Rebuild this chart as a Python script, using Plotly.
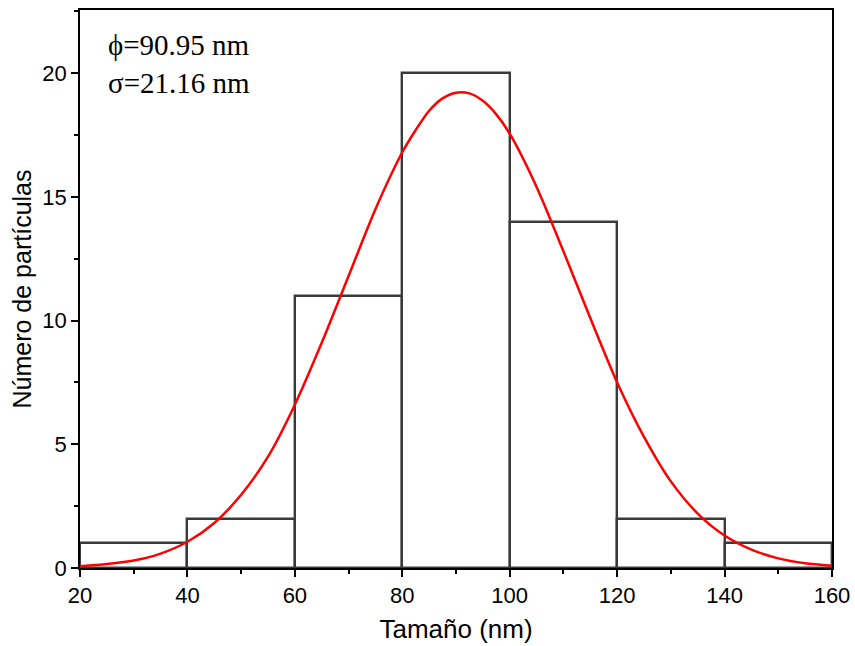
import plotly.graph_objects as go

# Histogram data
bin_centers = [30, 50, 70, 90, 110, 130, 150]
counts = [1, 2, 11, 20, 14, 2, 1]
bin_width = 20

# Fitted curve values
curve_x = [20, 25, 30, 35, 40, 45, 50, 55, 60, 65, 70, 75, 80, 82.5, 85, 87.5,
           90, 92.5, 95, 97.5, 100, 105, 110, 115, 120, 125, 130, 135, 140,
           145, 150, 155, 160]
curve_y = [0.07, 0.16, 0.30, 0.58, 1.06, 1.82, 2.96, 4.5, 6.6, 9.1, 11.8, 14.5,
           16.8, 17.7, 18.48, 18.98, 19.21, 19.18, 18.88, 18.33, 17.55, 15.4,
           12.8, 10.1, 7.5, 5.3, 3.5, 2.2, 1.31, 0.74, 0.39, 0.19, 0.09]

stats_text = ["ϕ=90.95 nm", "σ=21.16 nm"]

SANS = "Liberation Sans, Arial, sans-serif"
SERIF = "Liberation Serif, Times New Roman, serif"

fig = go.Figure()
fig.add_trace(go.Bar(
    x=bin_centers, y=counts, width=[bin_width] * len(counts),
    marker=dict(color="rgba(0,0,0,0)", line=dict(color="#3a3a3a", width=2.4)),
    showlegend=False,
))
fig.add_trace(go.Scatter(
    x=curve_x, y=curve_y, mode="lines",
    line=dict(color="#ff0000", width=2.5, shape="spline", smoothing=0.8),
    showlegend=False,
))

fig.add_annotation(
    x=0.035, y=0.97, xref="paper", yref="paper", xanchor="left", yanchor="top",
    text="<br>".join(stats_text), showarrow=False, align="left",
    font=dict(family=SERIF, size=29, color="black"),
)

axis_common = dict(
    showline=True, linecolor="black", linewidth=1.6, mirror=True,
    ticks="outside", ticklen=7, tickwidth=1.6, tickcolor="black",
    showgrid=False, zeroline=False, automargin=False,
    tickfont=dict(family=SANS, size=22, color="black"),
)

fig.update_xaxes(
    range=[20, 160], tick0=20, dtick=20,
    minor=dict(ticks="outside", ticklen=4, tickwidth=1.6, tickcolor="black", dtick=10),
    title=dict(text="Tamaño (nm)", font=dict(family=SANS, size=26, color="black"), standoff=13),
    **axis_common,
)
fig.update_yaxes(
    range=[0, 22.55], tick0=0, dtick=5,
    minor=dict(ticks="outside", ticklen=4, tickwidth=1.6, tickcolor="black", dtick=2.5),
    title=dict(text="Número de partículas", font=dict(family=SANS, size=25, color="black"), standoff=4),
    **axis_common,
)

fig.update_layout(
    width=855, height=646,
    margin=dict(l=80, r=23, t=10, b=78),
    plot_bgcolor="white", paper_bgcolor="white",
    bargap=0,
)

fig.write_html(
    "out.html",
    config={"displayModeBar": False},
    post_script="document.body.style.margin='0';document.body.style.overflow='hidden';",
)
